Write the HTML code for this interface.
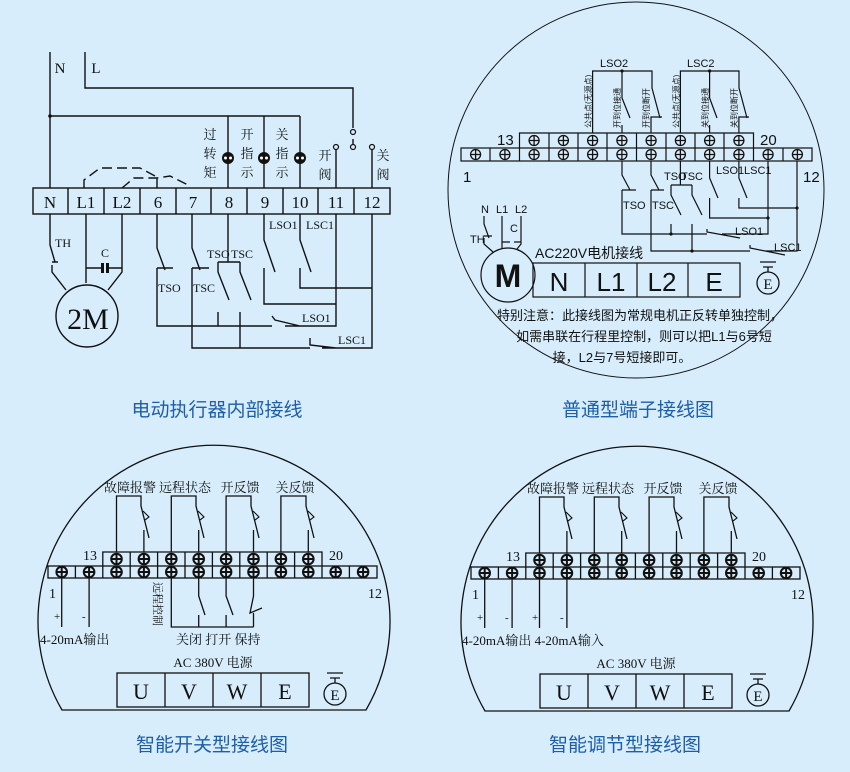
<!DOCTYPE html>
<html><head><meta charset="utf-8"><style>
html,body{margin:0;padding:0;background:#d7edfb;}
svg{display:block;}
text{font-family:"Liberation Serif","Noto Serif CJK SC",serif;fill:#111;}
.s{font-family:"Liberation Sans","Noto Sans CJK SC",sans-serif;}
.ti{font-family:"Liberation Sans","Noto Sans CJK SC",sans-serif;fill:#1d5ea8;font-size:19px;}
</style></head><body>
<svg width="850" height="772" viewBox="0 0 850 772" xmlns="http://www.w3.org/2000/svg">
<rect width="850" height="772" fill="#d7edfb"/>
<defs>
<g id="t"><circle r="5" fill="none" stroke="#111" stroke-width="1.3"/><path d="M-5 0H5M0 -5V5" stroke="#111" stroke-width="1.3"/></g>
<g id="tb"><circle r="5.3" fill="none" stroke="#111" stroke-width="2"/><path d="M-5 0H5M0 -5V5" stroke="#111" stroke-width="2"/></g>
<g id="gnd"><path d="M-8 0H8M-5 5H5M0 5V10" stroke="#111" stroke-width="1.3" fill="none"/><circle cy="21" r="11" fill="none" stroke="#111" stroke-width="1.3"/><text y="27" text-anchor="middle" font-size="15">E</text></g>
</defs>

<!-- ========== TOP LEFT ========== -->
<g stroke="#111" stroke-width="1.4" fill="none">
<path d="M50 52V188M85 52V88H353V128M50 116H300M228 116V188M264 116V188M300 116V188"/>
<path d="M336 150V188M372 150V188"/>
<path d="M353 139L353 145"/>
<rect x="33" y="188" width="357" height="26"/>
<path d="M68 188V214M104 188V214M140 188V214M176 188V214M211 188V214M247 188V214M283 188V214M318 188V214M354 188V214"/>
<path d="M84 188V180L100 168H140L155 176" stroke-dasharray="10 5"/>
<path d="M122 188L134 178H157L170 176L190 186" stroke-dasharray="10 5"/>
<path d="M157 188V178"/>
<!-- motor -->
<path d="M50 214V245L55 262M52 262H58M52 265V272L66 290M86 214V283M122 214V268V272L108 290M86 268H101M109 268H122"/>
<circle cx="87" cy="316" r="31"/>
<!-- 6 -->
<path d="M157 214V248L165 270M157 268H173M157 268V326H272M272 316L275 320L300 326M285 326H336V214"/>
<!-- 7 -->
<path d="M192 214V248L200 270M192 268H209M192 268V348H310M310 338V345L336 348M322 348H372V214"/>
<!-- 8 -->
<path d="M228 214V262M218 262H240M218 262V272L229 300M240 262V272L251 300M218 312V326M240 312V348"/>
<!-- 9 10 -->
<path d="M264 214V240L275 272M264 268V304H336M300 214V240L311 272M300 268V288H372"/>
</g>
<g fill="#111">
<circle cx="228" cy="158" r="6"/><circle cx="264" cy="158" r="6"/><circle cx="300" cy="158" r="6"/>
<circle cx="50" cy="116" r="1.8"/>
<rect x="101" y="263" width="3" height="10"/><rect x="106" y="263" width="3" height="10"/>
</g>
<g fill="#fff"><circle cx="225.5" cy="158" r="1.5"/><circle cx="230.5" cy="158" r="1.5"/><circle cx="261.5" cy="158" r="1.5"/><circle cx="266.5" cy="158" r="1.5"/><circle cx="297.5" cy="158" r="1.5"/><circle cx="302.5" cy="158" r="1.5"/></g>
<g fill="#d7edfb" stroke="#111" stroke-width="1.2"><circle cx="353" cy="132" r="2.5"/><circle cx="353" cy="147" r="2.5"/><circle cx="336" cy="147" r="2.5"/><circle cx="372" cy="147" r="2.5"/></g>
<g font-size="17" text-anchor="middle">
<text x="60" y="73" font-size="15">N</text><text x="96" y="73" font-size="15">L</text>
<text x="50" y="208">N</text><text x="86" y="208">L1</text><text x="122" y="208">L2</text><text x="158" y="208">6</text><text x="193" y="208">7</text><text x="229" y="208">8</text><text x="265" y="208">9</text><text x="300" y="208">10</text><text x="336" y="208">11</text><text x="372" y="208">12</text>
<text x="88" y="329" font-size="30">2M</text>
</g>
<g font-size="12">
<text x="55" y="247">TH</text><text x="101" y="257">C</text>
<text x="207" y="258">TSO</text><text x="231" y="258">TSC</text>
<text x="158" y="292">TSO</text><text x="193" y="292">TSC</text>
<text x="269" y="229">LSO1</text><text x="306" y="229">LSC1</text>
<text x="302" y="322">LSO1</text><text x="338" y="344">LSC1</text>
</g>
<g font-size="13" text-anchor="middle">
<text x="210" y="139">过</text><text x="210" y="158">转</text><text x="210" y="177">矩</text>
<text x="247" y="139">开</text><text x="247" y="158">指</text><text x="247" y="177">示</text>
<text x="282" y="139">关</text><text x="282" y="158">指</text><text x="282" y="177">示</text>
<text x="325" y="160">开</text><text x="325" y="179">阀</text>
<text x="383" y="160">关</text><text x="383" y="179">阀</text>
</g>
<text class="ti" x="217" y="416" text-anchor="middle">电动执行器内部接线</text>

<!-- ========== TOP RIGHT ========== -->
<circle cx="636" cy="190" r="188" fill="none" stroke="#111" stroke-width="1"/>
<g stroke="#111" stroke-width="1.2" fill="none">
<rect x="461" y="148" width="351" height="13"/>
<path d="M490 148V161M519.5 148V161M549 148V161M578 148V161M607 148V161M636.5 148V161M666 148V161M695 148V161M724 148V161M753.5 148V161M783 148V161"/>
<path d="M519.5 148V133H753.5V148M549 133V148M578 133V148M607 133V148M636.5 133V148M666 133V148M695 133V148M724 133V148"/>
<!-- LSO2 -->
<path d="M592.6 133V71H652V88L660 118M622 71V98L630 118M651 133V117H662M622 133V125"/>
<!-- LSC2 -->
<path d="M680.4 133V71H739V88L747 118M709.6 71V98L717 118M738.9 133V117H749M709.6 133V125"/>
<!-- lower -->
<path d="M622 161V175L630 190M622 190H636M622 190V234H707M707 229V232L740 238M722 234H768V161"/>
<path d="M651 161V175L659 190M651 190H664M651 190V251H750M750 245V248L785 255M765 251H797V161"/>
<path d="M680.4 161V185M671 185H692M671 185V195L681 215M692 185V195L702 215M671 224V234M692 224V251"/>
<path d="M709.6 161V178L718 198M709.6 198V218H768M738.9 161V178L747 198M738.9 198V208H797"/>
<!-- motor -->
<path d="M484 216V224L489 238M484 236H492M484 238V244L493 252M502 216V244V249M521 216V230V244L517 249M502 242H510M514 242H521"/>
<circle cx="508" cy="275" r="27"/>
<rect x="533" y="263" width="207" height="34"/>
<path d="M585 263V297M637 263V297M688 263V297"/>
</g>
<g fill="#111"><circle cx="622" cy="71" r="1.6"/><circle cx="709.6" cy="71" r="1.6"/><circle cx="768" cy="218" r="1.6"/><circle cx="797" cy="208" r="1.6"/><circle cx="671" cy="234" r="1.6"/><circle cx="692" cy="251" r="1.6"/></g>
<g>
<use href="#t" x="475.6" y="154.5"/><use href="#t" x="504.9" y="154.5"/><use href="#t" x="534.1" y="154.5"/><use href="#t" x="563.4" y="154.5"/><use href="#t" x="592.6" y="154.5"/><use href="#t" x="621.9" y="154.5"/><use href="#t" x="651.1" y="154.5"/><use href="#t" x="680.4" y="154.5"/><use href="#t" x="709.6" y="154.5"/><use href="#t" x="738.9" y="154.5"/><use href="#t" x="768.1" y="154.5"/><use href="#t" x="797.4" y="154.5"/>
<use href="#t" x="534.1" y="140.5"/><use href="#t" x="563.4" y="140.5"/><use href="#t" x="592.6" y="140.5"/><use href="#t" x="621.9" y="140.5"/><use href="#t" x="651.1" y="140.5"/><use href="#t" x="680.4" y="140.5"/><use href="#t" x="709.6" y="140.5"/><use href="#t" x="738.9" y="140.5"/>
</g>
<g class="s" font-size="15"><text x="497" y="145" class="s">13</text><text x="760" y="145" class="s">20</text><text x="463" y="182" class="s">1</text><text x="803" y="182" class="s">12</text></g>
<g font-size="11" class="s">
<text x="600" y="67" class="s">LSO2</text><text x="687" y="67" class="s">LSC2</text>
<text x="664" y="180" class="s">TSO</text><text x="681" y="180" class="s">TSC</text>
<text x="716" y="174" class="s">LSO1</text><text x="744" y="174" class="s">LSC1</text>
<text x="623" y="209" class="s">TSO</text><text x="652" y="209" class="s">TSC</text>
<text x="735" y="235" class="s">LSO1</text><text x="774" y="251" class="s">LSC1</text>
<text x="481" y="213" class="s">N</text><text x="496" y="213" class="s">L1</text><text x="515" y="213" class="s">L2</text>
<text x="470" y="243" class="s">TH</text><text x="510" y="232" class="s">C</text>
</g>
<g font-size="8" class="s">
<text transform="translate(591,128) rotate(-90)" class="s">公共点(无源点)</text>
<text transform="translate(620,128) rotate(-90)" class="s">开到位接通</text>
<text transform="translate(649,128) rotate(-90)" class="s">开到位断开</text>
<text transform="translate(679,128) rotate(-90)" class="s">公共点(无源点)</text>
<text transform="translate(708,128) rotate(-90)" class="s">关到位接通</text>
<text transform="translate(737,128) rotate(-90)" class="s">关到位断开</text>
</g>
<text x="535" y="258" font-size="14" class="s">AC220V电机接线</text>
<g class="s" font-size="26" text-anchor="middle"><text x="559" y="291" class="s">N</text><text x="611" y="291" class="s">L1</text><text x="662" y="291" class="s">L2</text><text x="714" y="291" class="s">E</text>
<text x="508" y="287" font-size="32" font-weight="bold" class="s">M</text></g>
<use href="#gnd" x="768" y="262"/>
<g font-size="13" class="s" text-anchor="middle">
<text x="640" y="320" class="s">特别注意：此接线图为常规电机正反转单独控制，</text>
<text x="644" y="341" class="s">如需串联在行程里控制，则可以把L1与6号短</text>
<text x="622" y="362" class="s">接，L2与7号短接即可。</text>
</g>
<text class="ti" x="638" y="416" text-anchor="middle">普通型端子接线图</text>

<!-- ========== BOTTOM LEFT ========== -->
<g id="bl">
<path d="M62 710A176 176 0 1 1 366 710Z" fill="none" stroke="#111" stroke-width="1.3"/>
<g stroke="#111" stroke-width="1.3" fill="none">
<rect x="48" y="566" width="329" height="12"/>
<path d="M75.4 566V578M102.8 566V578M130.2 566V578M157.6 566V578M185 566V578M212.4 566V578M239.8 566V578M267.2 566V578M294.6 566V578M322 566V578M349.4 566V578"/>
<path d="M102.8 566V552H322V566M130.2 552V566M157.6 552V566M185 552V566M212.4 552V566M239.8 552V566M267.2 552V566M294.6 552V566"/>
<path d="M116.5 552V496H141V506L149 538M143.9 552V530"/>
<path d="M171.3 552V496H196V506L204 538M198.7 552V530"/>
<path d="M226.1 552V496H251V506L259 538M253.5 552V530"/>
<path d="M280.9 552V496H306V506L314 538M308.3 552V530"/>
</g>
<g fill="none" stroke="#111" stroke-width="1.1">
<path d="M143 511L149 517L145 520"/><path d="M198 511L204 517L200 520"/><path d="M253 511L259 517L255 520"/><path d="M308 511L314 517L310 520"/>
</g>
<g>
<use href="#tb" x="61.7" y="572"/><use href="#tb" x="89.1" y="572"/><use href="#tb" x="116.5" y="572"/><use href="#tb" x="143.9" y="572"/><use href="#tb" x="171.3" y="572"/><use href="#tb" x="198.7" y="572"/><use href="#tb" x="226.1" y="572"/><use href="#tb" x="253.5" y="572"/><use href="#tb" x="280.9" y="572"/><use href="#tb" x="308.3" y="572"/><use href="#tb" x="335.7" y="572"/><use href="#tb" x="363.1" y="572"/>
<use href="#tb" x="116.5" y="559"/><use href="#tb" x="143.9" y="559"/><use href="#tb" x="171.3" y="559"/><use href="#tb" x="198.7" y="559"/><use href="#tb" x="226.1" y="559"/><use href="#tb" x="253.5" y="559"/><use href="#tb" x="280.9" y="559"/><use href="#tb" x="308.3" y="559"/>
</g>
<g font-size="13" text-anchor="middle">
<text x="130" y="492">故障报警</text><text x="185" y="492">远程状态</text><text x="240" y="492">开反馈</text><text x="295" y="492">关反馈</text>
</g>
<g font-size="14"><text x="83" y="560">13</text><text x="329" y="560">20</text><text x="49" y="598">1</text><text x="368" y="598">12</text></g>
<text x="213" y="667" font-size="13" text-anchor="middle">AC 380V 电源</text>
<g stroke="#111" stroke-width="1.3" fill="none"><rect x="117" y="673" width="192" height="34"/><path d="M165 673V707M213 673V707M261 673V707"/></g>
<g font-size="22" text-anchor="middle"><text x="141" y="699">U</text><text x="189" y="699">V</text><text x="237" y="699">W</text><text x="285" y="699">E</text></g>
<use href="#gnd" x="335" y="673"/>
</g>
<!-- bottom-left specifics -->
<g stroke="#111" stroke-width="1.3" fill="none">
<path d="M61.7 578V627M89.1 578V627"/>
<path d="M171.3 578V627H253.5M198.7 578V596L205 615M198.7 615V627M226.1 578V596L233 615M226.1 615V627M253.5 578V596L250 613L262 608M253.5 613V627"/>
</g>
<g font-size="11"><text x="54" y="620">+</text><text x="82" y="620">-</text></g>
<text x="40" y="644" font-size="13">4-20mA输出</text>
<text x="176" y="644" font-size="13">关闭 打开 保持</text>
<text transform="translate(154,582) rotate(90)" font-size="11">远程控制</text>
<text class="ti" x="212" y="751" text-anchor="middle">智能开关型接线图</text>

<!-- ========== BOTTOM RIGHT ========== -->
<use href="#bl" x="423" y="1"/>
<g stroke="#111" stroke-width="1.3" fill="none">
<path d="M484.7 579V628M512.1 579V628M539.5 579V628M566.9 579V628"/>
</g>
<g font-size="11"><text x="477" y="621">+</text><text x="505" y="621">-</text><text x="532" y="621">+</text><text x="560" y="621">-</text></g>
<text x="462" y="645" font-size="13">4-20mA输出 4-20mA输入</text>
<text class="ti" x="625" y="751" text-anchor="middle">智能调节型接线图</text>
</svg>
</body></html>
